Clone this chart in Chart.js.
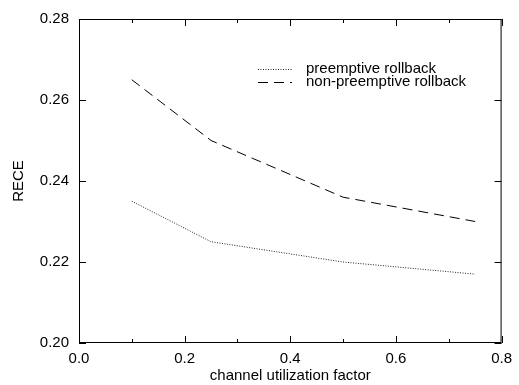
<!DOCTYPE html>
<html>
<head>
<meta charset="utf-8">
<script src="https://cdn.jsdelivr.net/npm/chart.js@4"></script>
<style>
  html, body { margin: 0; padding: 0; background: #fff; }
  #wrap { width: 519px; height: 385px; }
</style>
</head>
<body>
<div id="wrap"><canvas id="c"></canvas></div>
<script>
const xValues = [0.1, 0.25, 0.5, 0.75];
const preemptive = [0.235, 0.225, 0.220, 0.217];
const nonPreemptive = [0.265, 0.250, 0.236, 0.230];
const seriesLabels = ['preemptive rollback', 'non-preemptive rollback'];
const xTicks = [0.0, 0.2, 0.4, 0.6, 0.8];
const xMinorTicks = [0.1, 0.3, 0.5, 0.7];
const yTicks = [0.20, 0.22, 0.24, 0.26, 0.28];

const FONT = "'Liberation Sans', Arial, sans-serif";

// frame, inward ticks and the legend box
const framePlugin = {
    id: 'frame',
    afterDraw(chart) {
        const ctx = chart.ctx;
        const a = chart.chartArea;
        const xs = chart.scales.x, ys = chart.scales.y;
        ctx.save();
        ctx.strokeStyle = '#000';
        ctx.lineWidth = 1;
        ctx.strokeRect(a.left + 0.5, a.top + 0.5, a.right - a.left - 1, a.bottom - a.top - 1);
        ctx.beginPath();
        xTicks.forEach(v => {
            const px = Math.round(xs.getPixelForValue(v)) + 0.5;
            ctx.moveTo(px, a.bottom); ctx.lineTo(px, a.bottom - 7);
            ctx.moveTo(px, a.top); ctx.lineTo(px, a.top + 7);
        });
        xMinorTicks.forEach(v => {
            const px = Math.round(xs.getPixelForValue(v)) + 0.5;
            ctx.moveTo(px, a.bottom); ctx.lineTo(px, a.bottom - 4);
            ctx.moveTo(px, a.top); ctx.lineTo(px, a.top + 4);
        });
        yTicks.forEach(v => {
            const py = Math.round(ys.getPixelForValue(v)) + 0.5;
            ctx.moveTo(a.left, py); ctx.lineTo(a.left + 7, py);
            ctx.moveTo(a.right, py); ctx.lineTo(a.right - 7, py);
        });
        ctx.stroke();

        // legend
        ctx.font = '15px ' + FONT;
        ctx.textBaseline = 'middle';
        ctx.fillStyle = '#000';
        const lx0 = 258, lx1 = 292, tx = 306;
        const rows = [69, 82];
        chart.data.datasets.forEach((ds, i) => {
            ctx.beginPath();
            ctx.setLineDash(ds.borderDash);
            ctx.lineWidth = ds.borderWidth;
            ctx.strokeStyle = ds.borderColor;
            ctx.moveTo(lx0, rows[i] + 0.5);
            ctx.lineTo(lx1, rows[i] + 0.5);
            ctx.stroke();
            ctx.setLineDash([]);
            ctx.fillText(ds.label, tx, rows[i]);
        });
        ctx.restore();
    }
};

new Chart(document.getElementById('c'), {
    type: 'line',
    data: {
        datasets: [{
            label: seriesLabels[0],
            data: xValues.map((x, i) => ({ x: x, y: preemptive[i] })),
            borderColor: '#222',
            borderWidth: 1,
            borderDash: [1, 1.5],
            pointRadius: 0,
            tension: 0,
            fill: false
        }, {
            label: seriesLabels[1],
            data: xValues.map((x, i) => ({ x: x, y: nonPreemptive[i] })),
            borderColor: '#000',
            borderWidth: 1,
            borderDash: [10, 6],
            pointRadius: 0,
            tension: 0,
            fill: false
        }]
    },
    options: {
        responsive: true, maintainAspectRatio: false,
        animation: false,
        layout: { padding: { top: 17, right: 13, left: 10, bottom: 0 } },
        plugins: {
            legend: { display: false },
            tooltip: { enabled: false }
        },
        scales: {
            x: {
                type: 'linear', min: 0, max: 0.8,
                afterBuildTicks: s => { s.ticks = xTicks.map(v => ({ value: v })); },
                afterFit: s => { s.height = 42; },
                grid: { display: false, drawTicks: false },
                border: { display: false },
                ticks: {
                    color: '#000', font: { family: FONT, size: 15 }, padding: 7,
                    maxRotation: 0,
                    callback: v => v.toFixed(1)
                },
                title: {
                    display: true, text: 'channel utilization factor',
                    color: '#000', font: { family: FONT, size: 15 }, padding: { top: 2, bottom: 0 }
                }
            },
            y: {
                type: 'linear', min: 0.20, max: 0.28,
                afterBuildTicks: s => { s.ticks = yTicks.map(v => ({ value: v })); },
                afterFit: s => { s.width = 69; },
                grid: { display: false, drawTicks: false },
                border: { display: false },
                ticks: {
                    color: '#000', font: { family: FONT, size: 15 }, padding: 10,
                    callback: v => v.toFixed(2)
                },
                title: {
                    display: true, text: 'RECE',
                    color: '#000', font: { family: FONT, size: 15 }, padding: { top: 0, bottom: 0 }
                }
            }
        }
    },
    plugins: [framePlugin]
});
</script>
</body>
</html>
